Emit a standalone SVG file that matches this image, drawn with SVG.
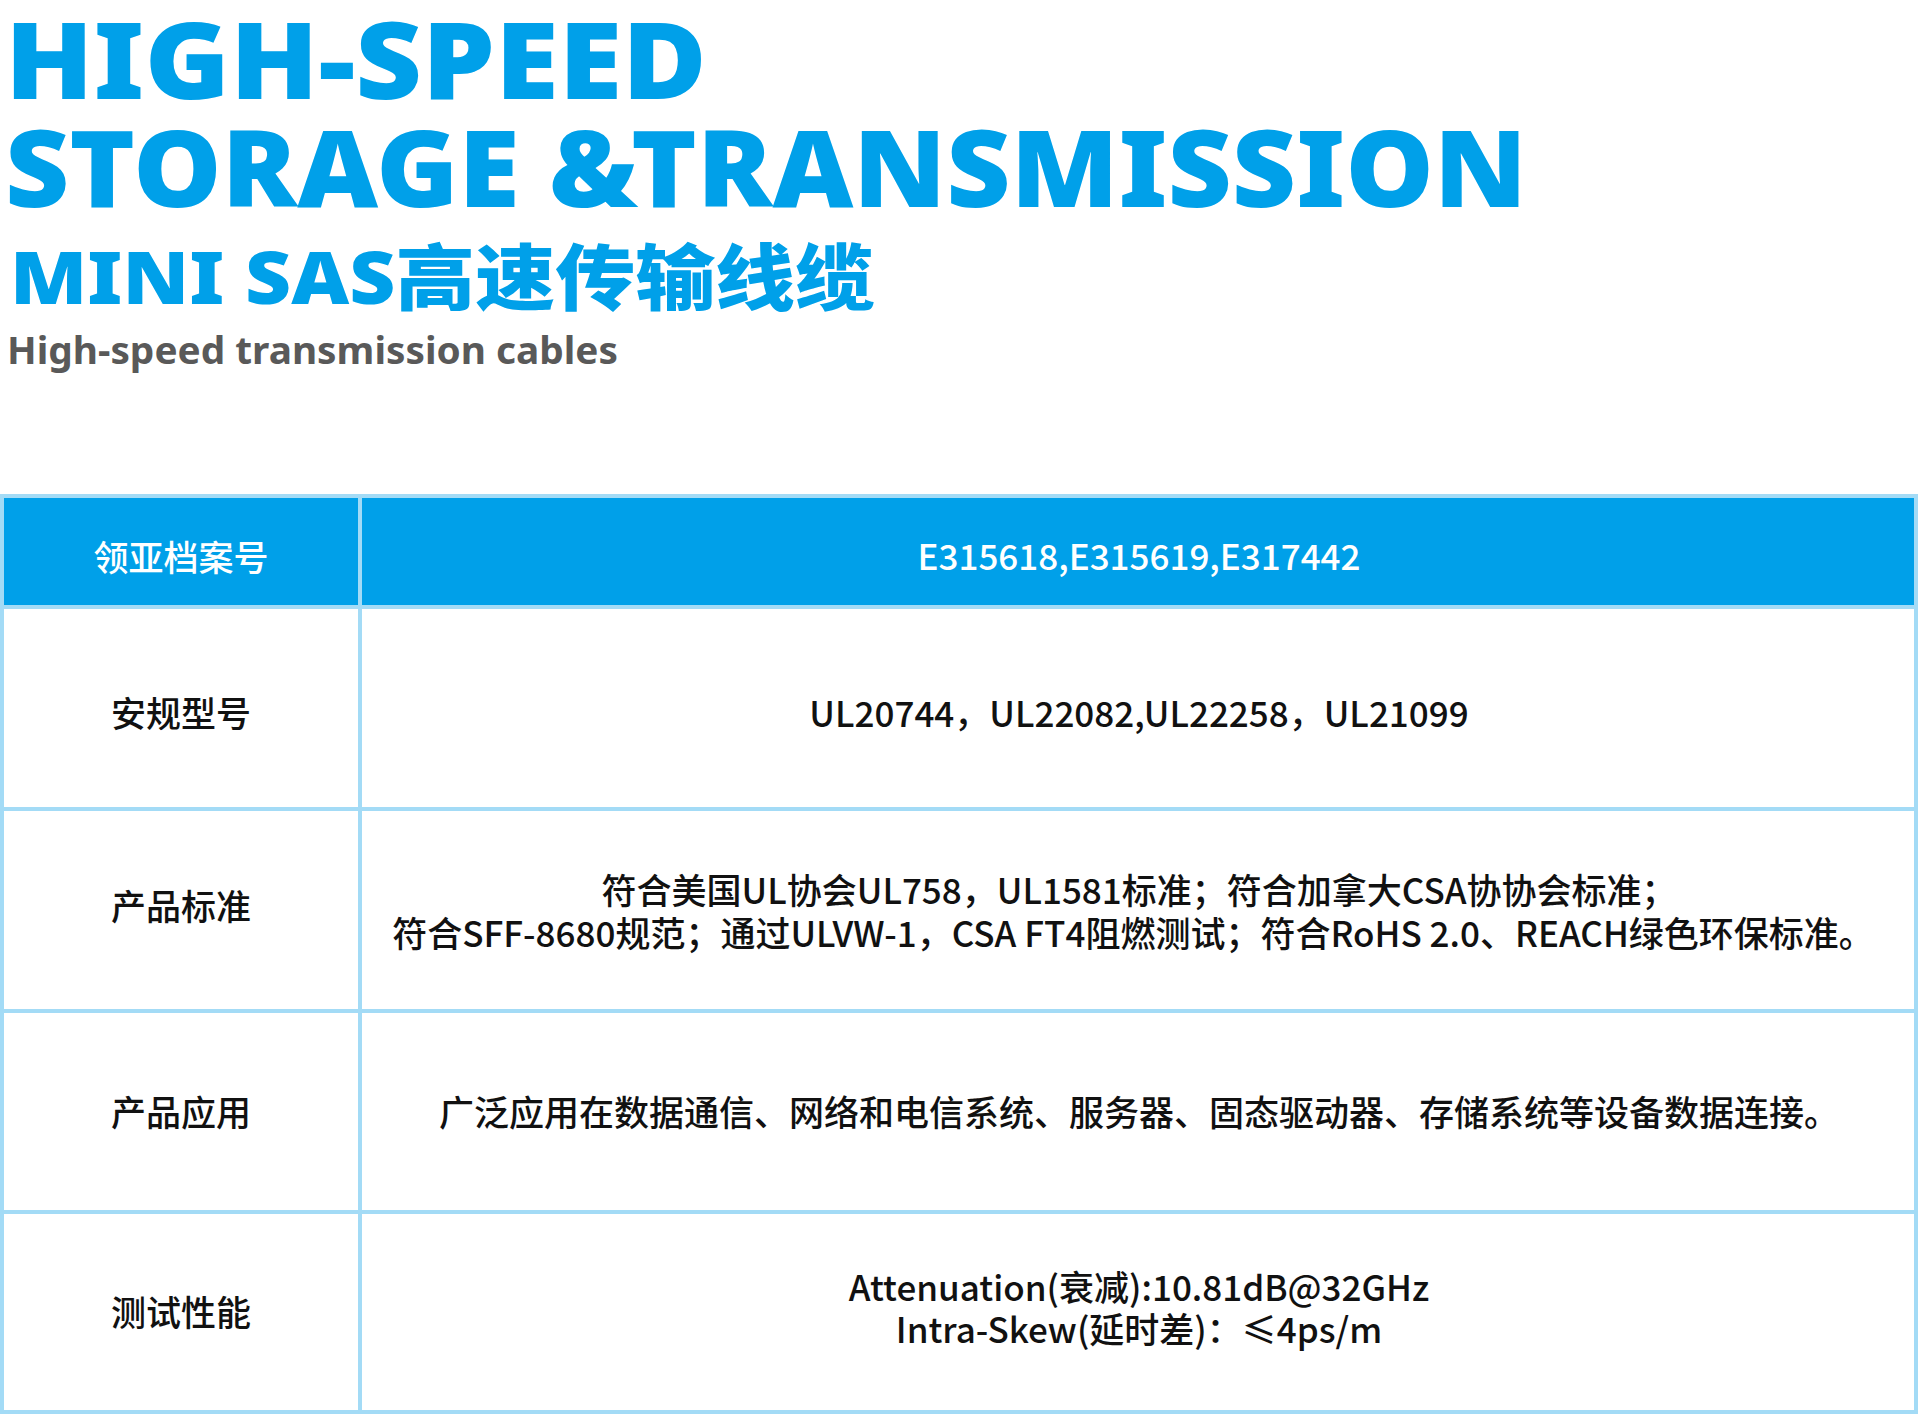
<svg xmlns="http://www.w3.org/2000/svg" width="1920" height="1416" viewBox="0 0 1920 1416">
<style>
.t{font-family:"Noto Sans","Noto Sans CJK SC",sans-serif;font-weight:900;fill:#00a0e9}
.c{font-family:"Noto Sans CJK SC","Noto Sans",sans-serif;font-weight:500;font-size:35px;fill:#111;text-anchor:middle}
.h{fill:#fff}
.ln{stroke:#a3dbf6;stroke-width:4;fill:none}
</style>
<rect width="1920" height="1416" fill="#fff"/>
<g id="title">
<text class="t" x="5" y="99" font-size="106" textLength="702" lengthAdjust="spacingAndGlyphs">HIGH-SPEED</text>
<text class="t" x="5" y="207" font-size="106" textLength="1522" lengthAdjust="spacingAndGlyphs">STORAGE &amp;TRANSMISSION</text>
<text class="t" x="10" y="304" font-size="72" textLength="865" lengthAdjust="spacingAndGlyphs">MINI SAS高速传输线缆</text>
<text x="7" y="364" font-family="Noto Sans,sans-serif" font-weight="700" font-size="38" fill="#595959" textLength="611" lengthAdjust="spacingAndGlyphs">High-speed transmission cables</text>
</g>
<g id="table">
<rect x="2" y="496" width="1914" height="111" fill="#00a0e9"/>
<g class="ln">
<rect x="2" y="496" width="1914" height="916"/>
<line x1="360" y1="496" x2="360" y2="1412"/>
<line x1="2" y1="607" x2="1916" y2="607"/>
<line x1="2" y1="809" x2="1916" y2="809"/>
<line x1="2" y1="1011" x2="1916" y2="1011"/>
<line x1="2" y1="1212" x2="1916" y2="1212"/>
</g>
</g>
<g id="r1"><text class="c h" x="181" y="571">领亚档案号</text><text class="c h" x="1139" y="570">E315618,E315619,E317442</text></g>
<g id="r2"><text class="c" x="181" y="727">安规型号</text><text class="c" x="1139" y="727">UL20744，UL22082,UL22258，UL21099</text></g>
<g id="r3"><text class="c" x="181" y="920">产品标准</text><text class="c" x="1139" y="904">符合美国UL协会UL758，UL1581标准；符合加拿大CSA协协会标准；</text><text class="c" x="1133" y="947">符合SFF-8680规范；通过ULVW-1，CSA FT4阻燃测试；符合RoHS 2.0、REACH绿色环保标准。</text></g>
<g id="r4"><text class="c" x="181" y="1126">产品应用</text><text class="c" x="1139" y="1126">广泛应用在数据通信、网络和电信系统、服务器、固态驱动器、存储系统等设备数据连接。</text></g>
<g id="r5"><text class="c" x="181" y="1326">测试性能</text><text class="c" x="1139" y="1301">Attenuation(衰减):10.81dB@32GHz</text><text class="c" x="1139" y="1343">Intra-Skew(延时差)：≤4ps/m</text></g>
</svg>
